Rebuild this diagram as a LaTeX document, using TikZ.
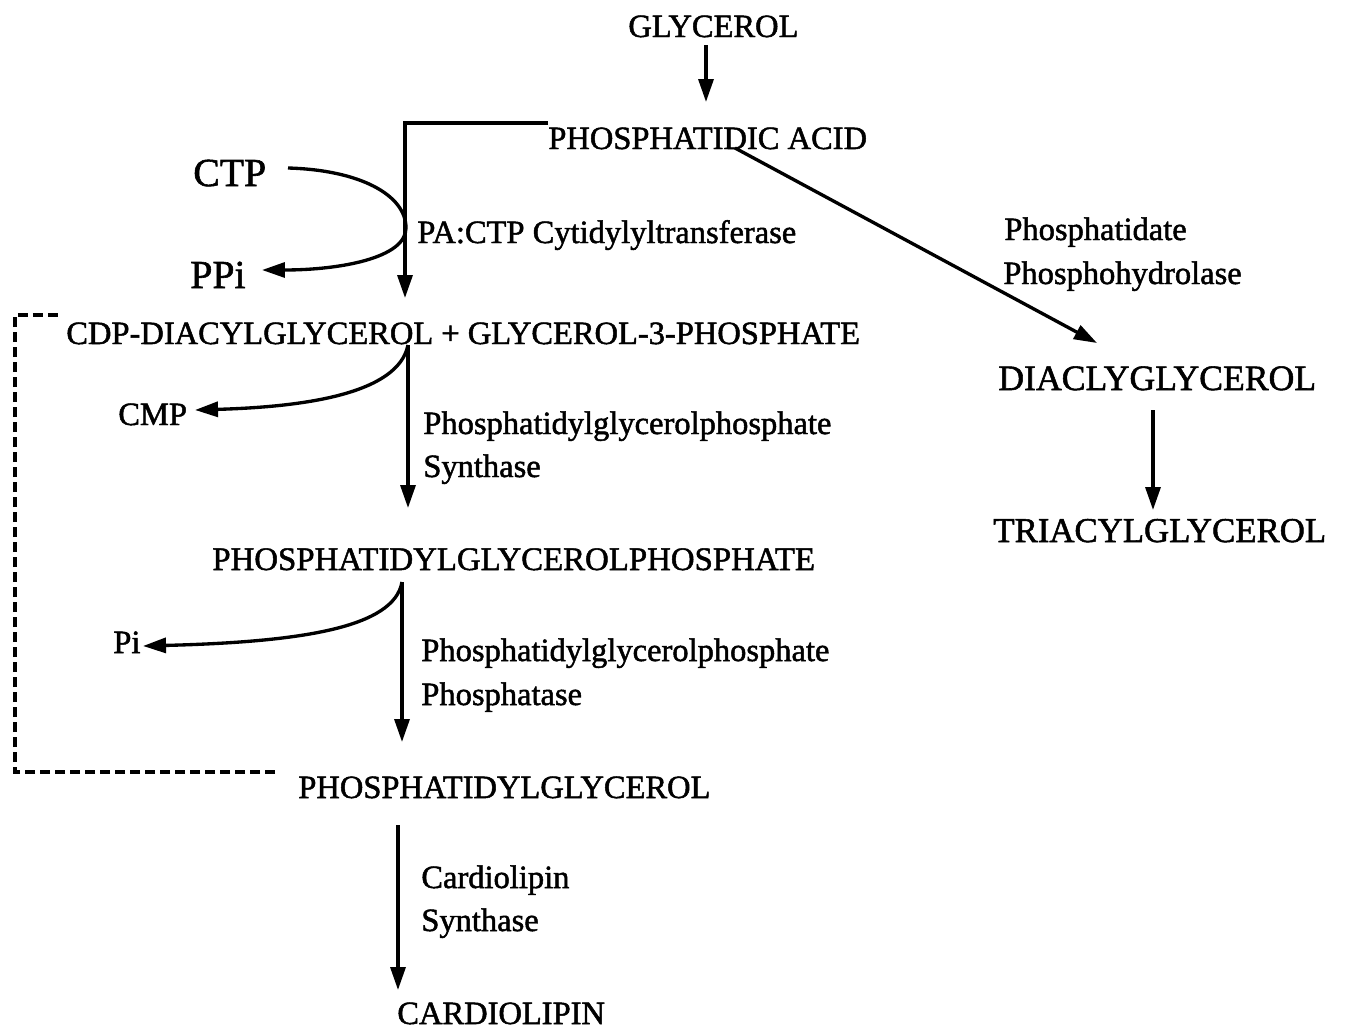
\documentclass[tikz,border=0pt]{standalone}
\usepackage{fontspec}
\setmainfont{Liberation Serif}
\newfontfamily\scanfont{Liberation Serif}[FakeBold=1.5]
\usetikzlibrary{arrows.meta}
\begin{document}
\begin{tikzpicture}[x=0.02cm,y=-0.02cm,
  lbl/.style={inner sep=0,anchor=base west,font=\scanfont\fontsize{18.5}{20}\selectfont},
  big/.style={lbl,font=\scanfont\fontsize{22.6}{24}\selectfont},
  arr/.style={line width=1.9pt,-{Triangle[length=0.46cm,width=0.3cm]}},
  dsh/.style={line width=2pt,dash pattern=on 0.2cm off 0.1cm}]
\useasboundingbox (0,0) rectangle (1353,1031);
% nodes
\node[lbl] (glycerol) at (628,37) {GLYCEROL};
\node[lbl] (pa) at (548,149) {PHOSPHATIDIC ACID};
\node[big] (ctp) at (193,186) {CTP};
\node[big] (ppi) at (190,288) {PPi};
\node[lbl] (ctenz) at (417,243) {PA:CTP Cytidylyltransferase};
\node[lbl] (cdp) at (66,344) {CDP-DIACYLGLYCEROL + GLYCEROL-3-PHOSPHATE};
\node[lbl] (cmp) at (118,425) {CMP};
\node[lbl] (pgps1) at (423,434) {Phosphatidylglycerolphosphate};
\node[lbl] (pgps2) at (423,477) {Synthase};
\node[lbl,font=\scanfont\fontsize{18.7}{20}\selectfont] (pgp) at (212,570) {PHOSPHATIDYLGLYCEROLPHOSPHATE};
\node[lbl] (pi) at (113,653) {Pi};
\node[lbl] (pgpp1) at (421,661) {Phosphatidylglycerolphosphate};
\node[lbl] (pgpp2) at (421,705) {Phosphatase};
\node[lbl] (pg) at (298,798) {PHOSPHATIDYLGLYCEROL};
\node[lbl] (cls1) at (421,888) {Cardiolipin};
\node[lbl] (cls2) at (421,931) {Synthase};
\node[lbl] (cl) at (397,1024) {CARDIOLIPIN};
\node[lbl] (pph1) at (1004,240) {Phosphatidate};
\node[lbl] (pph2) at (1003,284) {Phosphohydrolase};
\node[lbl,font=\scanfont\fontsize{20.3}{22}\selectfont] (dag) at (998,390) {DIACLYGLYCEROL};
\node[lbl,font=\scanfont\fontsize{19.8}{21}\selectfont] (tag) at (993,542) {TRIACYLGLYCEROL};
% connector end points
\coordinate (gOut) at (706,45);
\coordinate (paIn) at (706,102);
\coordinate (paOut) at (548,123);
\coordinate (cdpIn) at (405,298);
\coordinate (ctpOut) at (288,168);
\coordinate (ppiIn) at (262,270);
\coordinate (paDiag) at (735,148);
\coordinate (dagIn) at (1097,343);
\coordinate (dagOut) at (1153,410);
\coordinate (tagIn) at (1153,510);
\coordinate (cdpOut) at (408,345);
\coordinate (pgpIn) at (408,508);
\coordinate (cmpIn) at (195,410);
\coordinate (pgpOut) at (402,582);
\coordinate (pgIn) at (402,742);
\coordinate (piIn) at (143,646);
\coordinate (pgOut) at (398,825);
\coordinate (clIn) at (398,990);
\coordinate (pgLoop) at (275,772);
\coordinate (cdpLoop) at (60,315);
\coordinate (loopCorner) at (15,315);
% connectors
\draw[arr] (gOut) -- (paIn);
\draw[arr] (paOut) -| (cdpIn);
\draw[arr] (ctpOut) .. controls (360,170) and (406,195) .. (406,228)
                    .. controls (406,258) and (340,270) .. (ppiIn);
\draw[arr] (paDiag) -- (dagIn);
\draw[arr] (dagOut) -- (tagIn);
\draw[arr] (cdpOut) -- (pgpIn);
\draw[arr] (cdpOut) .. controls (398,395) and (300,407) .. (cmpIn);
\draw[arr] (pgpOut) -- (pgIn);
\draw[arr] (pgpOut) .. controls (394,628) and (300,642) .. (piIn);
\draw[arr] (pgOut) -- (clIn);
\draw[dsh] (pgLoop) -| (loopCorner) -- (cdpLoop);
\end{tikzpicture}
\end{document}
